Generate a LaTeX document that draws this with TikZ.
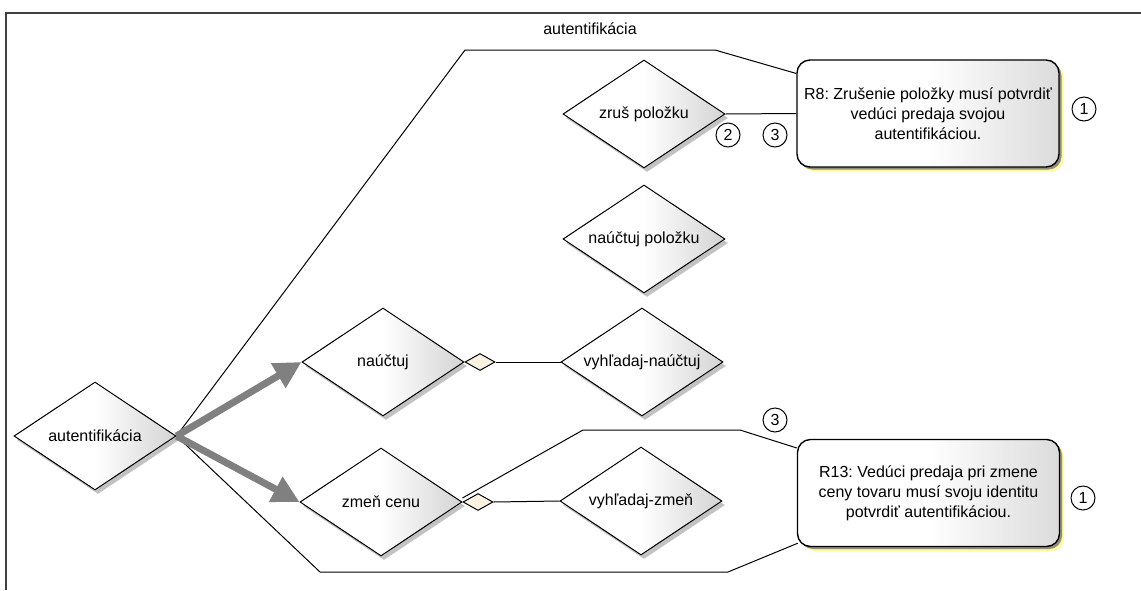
\documentclass[tikz,border=0pt]{standalone}
\usepackage{fontspec}
\setmainfont{Liberation Sans}
\usetikzlibrary{shapes.geometric,shadows,arrows.meta}

\tikzset{
  proc/.style={diamond, aspect=1.5, draw, line width=1pt, inner sep=0pt, minimum width=162pt, minimum height=108pt,
    left color=white, right color=black!17, middle color=white,
    drop shadow={shadow xshift=3pt, shadow yshift=-4pt, fill=black!40, opacity=.6}},
  rule/.style={rectangle, draw, line width=1.4pt, rounded corners=13pt, minimum width=262pt, minimum height=107pt,
    align=center, left color=white, right color=black!14, middle color=white,
    drop shadow={shadow xshift=4.5pt, shadow yshift=-4.5pt, fill=yellow!40, opacity=1},
    drop shadow={shadow xshift=2.5pt, shadow yshift=-2.5pt, fill=black!55, opacity=.8}},
  aggr/.style={diamond, draw, line width=1pt, inner sep=0pt, minimum width=30pt, minimum height=17pt,
    fill={rgb,255:red,252;green,242;blue,226}},
  num/.style={circle, draw, line width=1pt, inner sep=0pt, minimum size=24pt},
  flow/.style={draw=black!50, line width=7pt, -{Triangle[length=27pt,width=27pt]}},
  link/.style={draw, line width=1pt}
}

\begin{document}
\begin{tikzpicture}[x=1pt, y=-1pt, font=\fontsize{16}{20}\selectfont]
  \frenchspacing
  \useasboundingbox (0,0) rectangle (1141,590);
  \draw [black!75, line width=2pt] (6,590) -- (6,13) -- (1141,13);

  \node [proc] (auth) at (95,436) {autentifikácia};
  \node [proc] (nauc) at (383,362) {naúčtuj};
  \node [proc] (zmen) at (381,502) {zmeň cenu};
  \node [proc] (vyhn) at (642,362) {vyhľadaj-naúčtuj};
  \node [proc] (vyhz) at (641,501) {vyhľadaj-zmeň};
  \node [proc] (zrus) at (644,114) {zruš položku};
  \node [proc] (naup) at (644,239) {naúčtuj položku};

  \node [rule] (r8) at (928,113.5) {R8: Zrušenie položky musí potvrdiť\\vedúci predaja svojou\\autentifikáciou.};
  \node [rule] (r13) at (928.5,493) {R13: Vedúci predaja pri zmene\\ceny tovaru musí svoju identitu\\potvrdiť autentifikáciou.};

  \node [aggr, anchor=west] (aggn) at (nauc.east) {};
  \node [aggr, anchor=west] (aggz) at (zmen.east) {};
  \draw [link] (aggn.east) -- (vyhn.west);
  \draw [link] (aggz.east) -- (vyhz.west);

  \coordinate (t1) at (465,50);
  \coordinate (t2) at (715,50);
  \coordinate (b1) at (320,572);
  \coordinate (b2) at (728,572);
  \coordinate (u1) at (583,430);
  \coordinate (u2) at (740,430);

  \draw [link] (auth.east) -- (t1) -- (t2) -- ([yshift=40pt]r8.west);
  \node (lbl) at (590,29) {autentifikácia};
  \draw [link] (zrus.east) -- (r8.west);
  \draw [link] (auth.east) -- (b1) -- (b2) -- ([shift={(1pt,4pt)}]r13.south west);
  \draw [link] ([yshift=4pt]zmen.east) -- (u1) -- (u2) -- ([yshift=45pt]r13.west);

  \draw [flow] (auth.east) -- (nauc.west);
  \draw [flow] (auth.east) -- (zmen.west);

  \node [num] (c2) at (728,135) {2};
  \node [num] (c3a) at (775,135) {3};
  \node [num] (c1a) at (1084,109) {1};
  \node [num] (c3b) at (775,420) {3};
  \node [num] (c1b) at (1083,498) {1};
\end{tikzpicture}
\end{document}
